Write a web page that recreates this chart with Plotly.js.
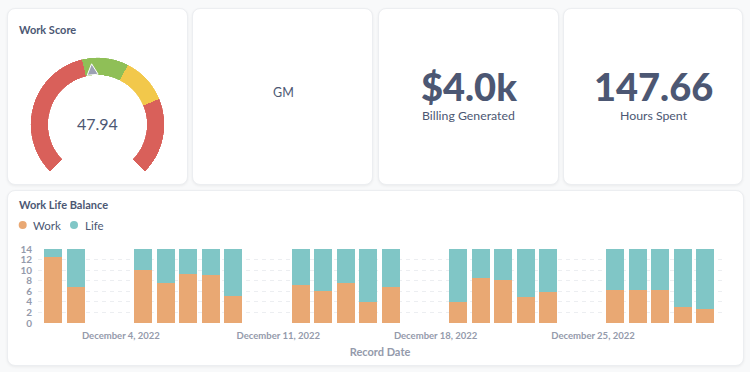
<!DOCTYPE html>
<html>
<head>
<meta charset="utf-8">
<script src="https://cdn.plot.ly/plotly-3.0.1.min.js"></script>
<style>
  html, body { margin:0; padding:0; width:750px; height:372px; overflow:hidden; background:#f8f9fa; font-family:Lato, sans-serif; }
  .card { position:absolute; background:#ffffff; border:1px solid #eceef1; border-radius:8px; box-shadow:0 1px 3px rgba(0,0,0,0.06); box-sizing:border-box; }
  #plot { position:absolute; left:0; top:0; width:750px; height:372px; }
</style>
</head>
<body>
<div class="card" style="left:7px;top:8px;width:181px;height:177px;"></div>
<div class="card" style="left:192px;top:8px;width:181px;height:177px;"></div>
<div class="card" style="left:378px;top:8px;width:181px;height:177px;"></div>
<div class="card" style="left:563px;top:8px;width:180px;height:177px;"></div>
<div class="card" style="left:7px;top:190px;width:737px;height:176px;"></div>
<div id="plot"></div>
<script>
// ---- data ----
const dates = ['2022-12-01','2022-12-02',
  '2022-12-05','2022-12-06','2022-12-07','2022-12-08','2022-12-09',
  '2022-12-12','2022-12-13','2022-12-14','2022-12-15','2022-12-16',
  '2022-12-19','2022-12-20','2022-12-21','2022-12-22','2022-12-23',
  '2022-12-26','2022-12-27','2022-12-28','2022-12-29','2022-12-30'];
const workHours = [12.4, 6.8, 10.0, 7.5, 9.2, 9.1, 5.2, 7.2, 6.0, 7.5, 4.0, 6.9,
  4.0, 8.5, 8.2, 4.9, 5.8, 6.2, 6.2, 6.2, 3.1, 2.6];
const lifeHours = [1.6, 7.2, 4.0, 6.5, 4.8, 4.9, 8.8, 6.8, 8.0, 6.5, 10.0, 7.1,
  10.0, 5.5, 5.8, 9.1, 8.2, 7.8, 7.8, 7.8, 10.9, 11.4];
const seriesNames = ['Work', 'Life'];
const seriesColors = ['#E9A873', '#80C6C6'];

const gaugeValue = 47.94;
const gaugeBounds = [0, 45, 60, 75, 100];
const gaugeColors = ['#D9605A', '#8FBF57', '#F2C84B', '#D9605A'];

const kpiLabels = ['Billing Generated', 'Hours Spent'];
const kpiValues = [4000, 147.66];
const textLabel = 'GM';

// ---- helpers ----
const W = 750, H = 372;
const px = x => x / W;
const py = y => (H - y) / H;
const DARK = '#4c5773', LIGHT = '#949aab';
const sweep = 270, start = -135;
const gmin = gaugeBounds[0], gmax = gaugeBounds[gaugeBounds.length - 1];
const toTheta = v => start + sweep * (v - gmin) / (gmax - gmin);

const traces = [];
// gauge segments
const segTheta = [], segWidth = [];
for (let i = 0; i < gaugeColors.length; i++) {
  segTheta.push(toTheta((gaugeBounds[i] + gaugeBounds[i + 1]) / 2));
  segWidth.push(sweep * (gaugeBounds[i + 1] - gaugeBounds[i]) / (gmax - gmin));
}
traces.push({
  type: 'barpolar', subplot: 'polar', r: gaugeColors.map(() => 1), theta: segTheta, width: segWidth,
  marker: { color: gaugeColors, line: { width: 0 } }, hoverinfo: 'skip', showlegend: false
});
const needleTheta = toTheta(gaugeValue);
traces.push({
  type: 'scatterpolar', subplot: 'polar', mode: 'markers', r: [0.66], theta: [needleTheta],
  marker: { symbol: 'arrow-up', size: 11, color: '#9ca1b3', angle: needleTheta, line: { color: '#ffffff', width: 1 } },
  hoverinfo: 'skip', showlegend: false
});
// stacked bars
[workHours, lifeHours].forEach((vals, i) => {
  traces.push({
    type: 'bar', x: dates, y: vals, name: seriesNames[i], xaxis: 'x', yaxis: 'y',
    marker: { color: seriesColors[i], line: { width: 0 } }, showlegend: false
  });
});

const fmtMoney = v => '$' + (v / 1000).toFixed(1) + 'k';
const annotations = [
  { text: 'Work Score', x: px(17), y: py(29.5), xanchor: 'left', yanchor: 'middle', font: { size: 11, color: DARK, weight: 700 } },
  { text: gaugeValue.toFixed(2), x: px(97.5), y: py(123.5), xanchor: 'center', yanchor: 'middle', font: { size: 16, color: DARK } },
  { text: textLabel, x: px(283), y: py(92), xanchor: 'center', yanchor: 'middle', font: { size: 12.5, color: DARK } },
  { text: fmtMoney(kpiValues[0]), x: px(468.5), y: py(86), xanchor: 'center', yanchor: 'middle', font: { size: 38, color: DARK, weight: 900 } },
  { text: kpiLabels[0], x: px(468), y: py(116), xanchor: 'center', yanchor: 'middle', font: { size: 12.3, color: DARK } },
  { text: kpiValues[1].toFixed(2), x: px(653.5), y: py(86), xanchor: 'center', yanchor: 'middle', font: { size: 38, color: DARK, weight: 900 } },
  { text: kpiLabels[1], x: px(653.5), y: py(116), xanchor: 'center', yanchor: 'middle', font: { size: 12.3, color: DARK } },
  { text: 'Work Life Balance', x: px(17), y: py(205), xanchor: 'left', yanchor: 'middle', font: { size: 11, color: DARK, weight: 700 } }
];
const legendX = [22.7, 74];
const shapes = [];
seriesNames.forEach((n, i) => {
  shapes.push({ type: 'circle', xref: 'paper', yref: 'paper', x0: px(legendX[i] - 4), x1: px(legendX[i] + 4),
    y0: py(229), y1: py(221), fillcolor: seriesColors[i], line: { width: 0 } });
  annotations.push({ text: n, x: px(legendX[i] + 8.5), y: py(225), xanchor: 'left', yanchor: 'middle',
    font: { size: 11.5, color: DARK } });
});

const layout = {
  width: W, height: H, margin: { l: 0, r: 0, t: 0, b: 0 },
  paper_bgcolor: 'rgba(0,0,0,0)', plot_bgcolor: 'rgba(0,0,0,0)',
  font: { family: 'Lato, sans-serif', color: DARK },
  showlegend: false, barmode: 'stack', bargap: 0.2,
  polar: {
    domain: { x: [px(30.5), px(164.5)], y: [py(124.5 + 67), py(124.5 - 67)] },
    hole: 0.736, bgcolor: 'rgba(0,0,0,0)',
    radialaxis: { visible: false, range: [0, 1] },
    angularaxis: { visible: false, rotation: 90, direction: 'clockwise' }
  },
  xaxis: {
    type: 'date', domain: [px(38), px(722)], anchor: 'y',
    range: ['2022-11-30 07:30', '2022-12-30 17:45'],
    tick0: '2022-12-04', dtick: 7 * 86400000, tickformat: '%B %-d, %Y',
    showgrid: false, zeroline: false, showline: false, ticks: '', ticklabelstandoff: 5,
    tickfont: { size: 9.5, color: LIGHT, weight: 700 },
    title: { text: 'Record Date', font: { size: 11, color: LIGHT, weight: 700 }, standoff: 8 },
    fixedrange: true
  },
  yaxis: {
    domain: [py(323), py(249)], anchor: 'x', range: [0, 14], tick0: 0, dtick: 2,
    showgrid: true, gridcolor: '#eceef1', griddash: '4px,4px', gridwidth: 1,
    zeroline: false, showline: false, ticks: '', ticklabelstandoff: 5,
    tickfont: { size: 10, color: LIGHT, weight: 700 }, fixedrange: true
  },
  annotations: annotations.map(a => Object.assign({ xref: 'paper', yref: 'paper', showarrow: false }, a)),
  shapes: shapes
};

Plotly.newPlot('plot', traces, layout, { displayModeBar: false, staticPlot: true });
</script>
</body>
</html>
